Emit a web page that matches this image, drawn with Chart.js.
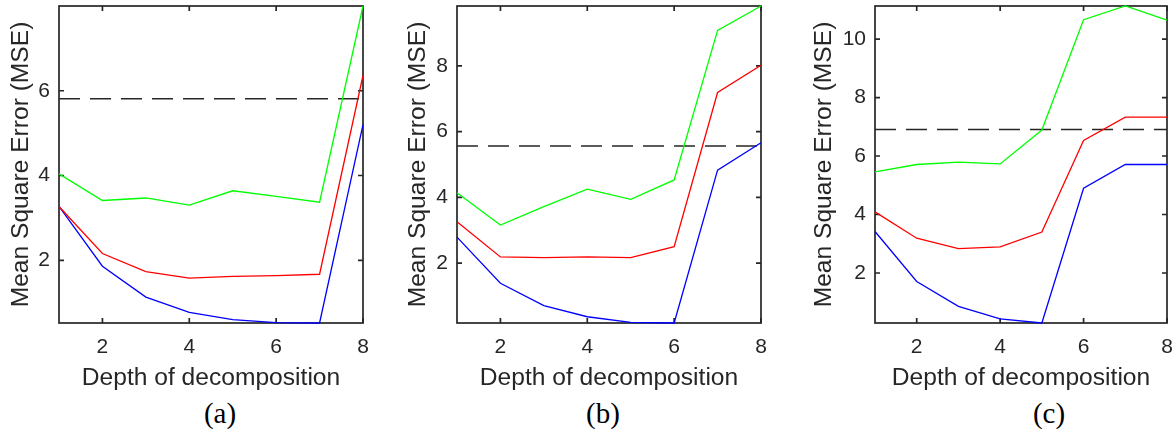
<!DOCTYPE html>
<html><head><meta charset="utf-8">
<script src="https://cdn.jsdelivr.net/npm/chart.js@4"></script>
<style>
html,body{margin:0;padding:0;background:#fff;width:1175px;height:430px;overflow:hidden;position:relative}
canvas{position:absolute;top:0}
.lab{position:absolute;font-family:"Liberation Serif","Times New Roman",serif;font-size:29px;color:#000;transform:translate(-50%,-50%);white-space:nowrap;line-height:1}
</style></head><body>
<canvas id="ca" width="373" height="395" style="left:0px"></canvas>
<canvas id="cb" width="374" height="395" style="left:397px"></canvas>
<canvas id="cc" width="372" height="395" style="left:803px"></canvas>
<div class="lab" style="left:220px;top:413px">(a)</div>
<div class="lab" style="left:603px;top:413px">(b)</div>
<div class="lab" style="left:1049px;top:413px">(c)</div>
<script>
// ---- data ----
const depth = [1, 2, 3, 4, 5, 6, 7, 8];
const xTicks = [2, 4, 6, 8];

const aGreen = [4.04, 3.41, 3.47, 3.30, 3.64, 3.51, 3.37, 8.00];
const aRed   = [3.27, 2.16, 1.73, 1.58, 1.62, 1.64, 1.67, 6.36];
const aBlue  = [3.27, 1.86, 1.13, 0.77, 0.60, 0.53, 0.52, 5.20];
const aThreshold = 5.81;
const aYTicks = [2, 4, 6];
const aYRange = [0.52, 8.00];

const bGreen = [4.14, 3.16, 3.72, 4.25, 3.94, 4.53, 9.08, 9.82];
const bRed   = [3.26, 2.19, 2.17, 2.19, 2.17, 2.50, 7.19, 8.02];
const bBlue  = [2.79, 1.39, 0.71, 0.37, 0.20, 0.18, 4.83, 5.66];
const bThreshold = 5.56;
const bYTicks = [2, 4, 6, 8];
const bYRange = [0.18, 9.82];

const cGreen = [5.46, 5.71, 5.79, 5.73, 6.89, 10.66, 11.13, 10.65];
const cRed   = [4.09, 3.19, 2.83, 2.89, 3.40, 6.53, 7.33, 7.33];
const cBlue  = [3.42, 1.71, 0.86, 0.43, 0.29, 4.90, 5.71, 5.71];
const cThreshold = 6.91;
const cYTicks = [2, 4, 6, 8, 10];
const cYRange = [0.29, 11.13];

const xTitle = 'Depth of decomposition';
const yTitle = 'Mean Square Error (MSE)';

// ---- drawing ----
const AX = '#262626';
const SANS = '"Liberation Sans", Arial, Helvetica, sans-serif';

const boxPlugin = {
  id: 'box',
  beforeDatasetsDraw(chart) {
    const {ctx, chartArea: a, scales} = chart;
    ctx.save();
    ctx.strokeStyle = AX;
    ctx.lineWidth = 1.7;
    ctx.beginPath();
    const tl = 5;
    scales.x.ticks.forEach(t => {
      const px = scales.x.getPixelForValue(t.value);
      ctx.moveTo(px, a.top); ctx.lineTo(px, a.top + tl);
      ctx.moveTo(px, a.bottom); ctx.lineTo(px, a.bottom - tl);
    });
    scales.y.ticks.forEach(t => {
      const py = scales.y.getPixelForValue(t.value);
      ctx.moveTo(a.left, py); ctx.lineTo(a.left + tl, py);
      ctx.moveTo(a.right, py); ctx.lineTo(a.right - tl, py);
    });
    ctx.stroke();
    ctx.strokeRect(a.left, a.top, a.right - a.left, a.bottom - a.top);
    ctx.restore();
  }
};

function noPad(s) { s.paddingLeft = 0; s.paddingRight = 0; s.paddingTop = 0; s.paddingBottom = 0; }

function series(vals, color) {
  return {
    data: depth.map((d, i) => ({x: d, y: vals[i]})),
    borderColor: color, borderWidth: 1.3, pointRadius: 0, tension: 0, clip: false, fill: false
  };
}

function makeChart(id, green, red, blue, th, yTicks, yRange, yWidth, padRight) {
  new Chart(document.getElementById(id), {
    type: 'line',
    data: {
      datasets: [
        series(green, '#00ff00'),
        series(red, '#ff0000'),
        series(blue, '#0000ff'),
        {
          data: [{x: depth[0], y: th}, {x: depth[depth.length - 1], y: th}],
          borderColor: AX, borderWidth: 1.5, borderDash: [21, 10], pointRadius: 0, clip: false, fill: false
        }
      ]
    },
    options: {
      responsive: false, animation: false, devicePixelRatio: 1,
      layout: {padding: {left: 0, right: padRight, top: 6, bottom: 0}},
      plugins: {legend: {display: false}, tooltip: {enabled: false}},
      scales: {
        x: {
          type: 'linear', min: depth[0], max: depth[depth.length - 1],
          afterBuildTicks: s => { s.ticks = xTicks.map(v => ({value: v})); },
          afterFit: s => { s.height = 72; noPad(s); },
          grid: {display: false, drawTicks: false},
          border: {display: false},
          ticks: {padding: 12, color: AX, font: {family: SANS, size: 21}, maxRotation: 0},
          title: {display: true, text: xTitle, color: AX, font: {family: SANS, size: 24.6}, padding: {top: 0, bottom: 2.3}}
        },
        y: {
          type: 'linear', min: yRange[0], max: yRange[1],
          afterBuildTicks: s => { s.ticks = yTicks.map(v => ({value: v})); },
          afterFit: s => { s.width = yWidth; noPad(s); },
          grid: {display: false, drawTicks: false},
          border: {display: false},
          ticks: {padding: 9, color: AX, font: {family: SANS, size: 21}},
          title: {display: true, text: yTitle, color: AX, font: {family: SANS, size: 24.6}, padding: {top: 6.2, bottom: 0}}
        }
      }
    },
    plugins: [boxPlugin]
  });
}

makeChart('ca', aGreen, aRed, aBlue, aThreshold, aYTicks, aYRange, 59, 10);
makeChart('cb', bGreen, bRed, bBlue, bThreshold, bYTicks, bYRange, 60, 10);
makeChart('cc', cGreen, cRed, cBlue, cThreshold, cYTicks, cYRange, 72, 8);
</script>
</body></html>
